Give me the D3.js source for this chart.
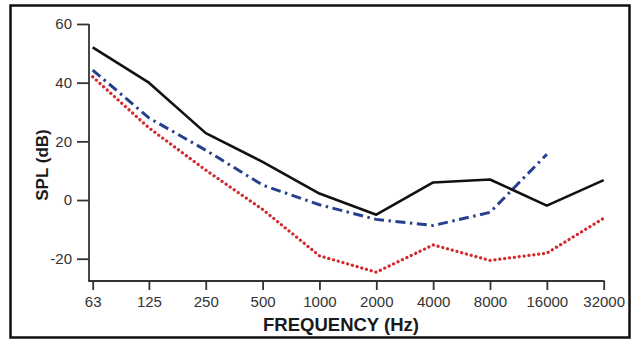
<!DOCTYPE html>
<html>
<head>
<meta charset="utf-8">
<script src="https://cdnjs.cloudflare.com/ajax/libs/d3/7.8.5/d3.min.js"></script>
<style>
  body { margin: 0; background: #fff; }
  svg { display: block; font-family: "Liberation Sans", Arial, sans-serif; }
</style>
</head>
<body>
<div id="chart"></div>
<script>
// frequencies (Hz) and SPL curves (dB)
var freqs = [63, 125, 250, 500, 1000, 2000, 4000, 8000, 16000, 32000];
var solidSeries = [52, 40, 22.8, 13, 2.2, -5, 6, 7, -1.9, 6.8];
var dashDotSeries = [44.3, 28, 17, 5.1, -1.6, -6.6, -8.7, -4.2, 15.6, null];
var dottedSeries = [42, 24.6, 10.2, -3.2, -19, -24.6, -15.3, -20.6, -18.1, -6.2];
var yTicks = [-20, 0, 20, 40, 60];

var width = 632, height = 341;
var svg = d3.select("#chart").append("svg")
  .attr("width", width)
  .attr("height", height);

// frame
svg.append("rect")
  .attr("x", 10.5).attr("y", 5.5)
  .attr("width", 619).attr("height", 332)
  .attr("fill", "#fff")
  .attr("stroke", "#111")
  .attr("stroke-width", 2.5);

var x = d3.scaleLog().base(2)
  .domain([63, 32000])
  .range([92.7, 603.7]);

var y = d3.scaleLinear()
  .domain([-27.6, 60])
  .range([281, 24]);

var axisColor = "#333";
var plain = function(d) { return String(d); };  // keep hyphen minus like the original

// x axis
var xAxis = svg.append("g")
  .attr("transform", "translate(0," + y(-27.6) + ")")
  .call(d3.axisBottom(x)
    .tickValues(freqs)
    .tickFormat(plain)
    .tickSize(9)
    .tickSizeOuter(0)
    .tickPadding(6));
xAxis.select(".domain").remove();
svg.append("line")
  .attr("x1", 88.2).attr("x2", x(32000) + 0.8)
  .attr("y1", y(-27.6)).attr("y2", y(-27.6))
  .attr("stroke", axisColor)
  .attr("stroke-width", 1.8);

// y axis
var yAxis = svg.append("g")
  .attr("transform", "translate(89,0)")
  .call(d3.axisLeft(y)
    .tickValues(yTicks)
    .tickFormat(plain)
    .tickSize(12)
    .tickSizeOuter(0)
    .tickPadding(5));
yAxis.select(".domain").attr("d", "M0," + y(-27.6) + "V" + y(60));

[xAxis, yAxis].forEach(function(a) {
  a.selectAll("path, line")
    .attr("stroke", axisColor)
    .attr("stroke-width", 1.8);
  a.selectAll("text")
    .attr("fill", "#333")
    .style("font-size", "15px");
});

// axis titles
svg.append("text")
  .attr("x", 341)
  .attr("y", 331)
  .attr("text-anchor", "middle")
  .style("font-weight", "bold")
  .style("font-size", "18.5px")
  .attr("fill", "#1a1a1a")
  .text("FREQUENCY (Hz)");

svg.append("text")
  .attr("transform", "translate(47.5,165) rotate(-90)")
  .attr("text-anchor", "middle")
  .style("font-weight", "bold")
  .style("font-size", "17px")
  .attr("fill", "#1a1a1a")
  .text("SPL (dB)");

// curves
var line = d3.line()
  .defined(function(d) { return d[1] != null; })
  .x(function(d) { return x(d[0]); })
  .y(function(d) { return y(d[1]); });

function zip(vals) {
  return freqs.map(function(f, i) { return [f, vals[i]]; });
}

svg.append("path")
  .datum(zip(dottedSeries))
  .attr("fill", "none")
  .attr("stroke", "#d42a2e")
  .attr("stroke-width", 3.2)
  .attr("stroke-linecap", "round")
  .attr("stroke-dasharray", "0.1 4.8")
  .attr("d", line);

svg.append("path")
  .datum(zip(dashDotSeries))
  .attr("fill", "none")
  .attr("stroke", "#27408e")
  .attr("stroke-width", 3)
  .attr("stroke-dasharray", "10 4.5 2.5 4.5")
  .attr("d", line);

svg.append("path")
  .datum(zip(solidSeries))
  .attr("fill", "none")
  .attr("stroke", "#111")
  .attr("stroke-width", 2.6)
  .attr("stroke-linejoin", "round")
  .attr("d", line);
</script>
</body>
</html>
